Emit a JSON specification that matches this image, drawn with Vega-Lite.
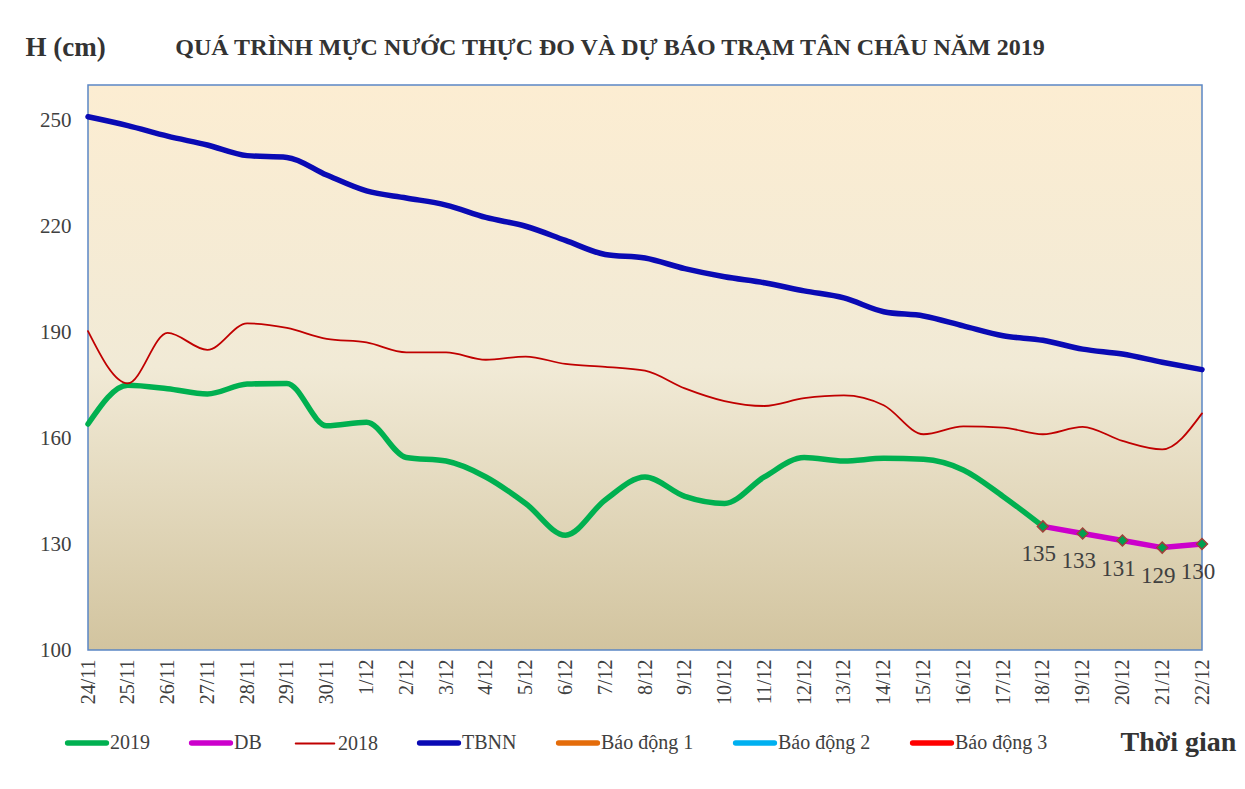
{
  "$schema": "https://vega.github.io/schema/vega-lite/v6.json",
  "width": 1114,
  "height": 565,
  "autosize": {"type": "none"},
  "padding": {"left": 88, "top": 85, "right": 43, "bottom": 139},
  "background": "white",
  "config": {
    "view": {"stroke": null},
    "font": "Liberation Serif"
  },
  "title": {
    "text": "QUÁ TRÌNH MỰC NƯỚC THỰC ĐO VÀ DỰ BÁO TRẠM  TÂN CHÂU NĂM 2019",
    "font": "Liberation Serif",
    "fontSize": 24,
    "fontWeight": "bold",
    "color": "#333333",
    "anchor": "middle",
    "frame": "group",
    "dx": -35,
    "offset": -27
  },
  "datasets": {
    "obs": [
      {"date": "24/11", "series": "2019", "value": 164},
      {"date": "25/11", "series": "2019", "value": 175},
      {"date": "26/11", "series": "2019", "value": 174},
      {"date": "27/11", "series": "2019", "value": 172.5},
      {"date": "28/11", "series": "2019", "value": 175.3},
      {"date": "29/11", "series": "2019", "value": 175.5},
      {"date": "30/11", "series": "2019", "value": 163.5},
      {"date": "1/12", "series": "2019", "value": 164.5},
      {"date": "2/12", "series": "2019", "value": 154.5},
      {"date": "3/12", "series": "2019", "value": 153.5},
      {"date": "4/12", "series": "2019", "value": 149},
      {"date": "5/12", "series": "2019", "value": 141.5},
      {"date": "6/12", "series": "2019", "value": 132.5},
      {"date": "7/12", "series": "2019", "value": 142.5},
      {"date": "8/12", "series": "2019", "value": 149},
      {"date": "9/12", "series": "2019", "value": 143.5},
      {"date": "10/12", "series": "2019", "value": 141.5},
      {"date": "11/12", "series": "2019", "value": 149},
      {"date": "12/12", "series": "2019", "value": 154.5},
      {"date": "13/12", "series": "2019", "value": 153.5},
      {"date": "14/12", "series": "2019", "value": 154.3},
      {"date": "15/12", "series": "2019", "value": 154},
      {"date": "16/12", "series": "2019", "value": 151},
      {"date": "17/12", "series": "2019", "value": 143.5},
      {"date": "18/12", "series": "2019", "value": 135},

      {"date": "24/11", "series": "2018", "value": 190.3},
      {"date": "25/11", "series": "2018", "value": 175.5},
      {"date": "26/11", "series": "2018", "value": 189.8},
      {"date": "27/11", "series": "2018", "value": 185},
      {"date": "28/11", "series": "2018", "value": 192.5},
      {"date": "29/11", "series": "2018", "value": 191.2},
      {"date": "30/11", "series": "2018", "value": 188.1},
      {"date": "1/12", "series": "2018", "value": 187.1},
      {"date": "2/12", "series": "2018", "value": 184.3},
      {"date": "3/12", "series": "2018", "value": 184.3},
      {"date": "4/12", "series": "2018", "value": 182.2},
      {"date": "5/12", "series": "2018", "value": 183.1},
      {"date": "6/12", "series": "2018", "value": 181},
      {"date": "7/12", "series": "2018", "value": 180.2},
      {"date": "8/12", "series": "2018", "value": 179.1},
      {"date": "9/12", "series": "2018", "value": 174.1},
      {"date": "10/12", "series": "2018", "value": 170.5},
      {"date": "11/12", "series": "2018", "value": 169.1},
      {"date": "12/12", "series": "2018", "value": 171.3},
      {"date": "13/12", "series": "2018", "value": 172.1},
      {"date": "14/12", "series": "2018", "value": 169.3},
      {"date": "15/12", "series": "2018", "value": 161.1},
      {"date": "16/12", "series": "2018", "value": 163.3},
      {"date": "17/12", "series": "2018", "value": 163},
      {"date": "18/12", "series": "2018", "value": 161.1},
      {"date": "19/12", "series": "2018", "value": 163.2},
      {"date": "20/12", "series": "2018", "value": 159.2},
      {"date": "21/12", "series": "2018", "value": 156.8},
      {"date": "22/12", "series": "2018", "value": 167},

      {"date": "24/11", "series": "TBNN", "value": 251},
      {"date": "25/11", "series": "TBNN", "value": 248.5},
      {"date": "26/11", "series": "TBNN", "value": 245.5},
      {"date": "27/11", "series": "TBNN", "value": 243},
      {"date": "28/11", "series": "TBNN", "value": 240},
      {"date": "29/11", "series": "TBNN", "value": 239.5},
      {"date": "30/11", "series": "TBNN", "value": 234.5},
      {"date": "1/12", "series": "TBNN", "value": 230},
      {"date": "2/12", "series": "TBNN", "value": 228},
      {"date": "3/12", "series": "TBNN", "value": 226},
      {"date": "4/12", "series": "TBNN", "value": 222.5},
      {"date": "5/12", "series": "TBNN", "value": 220},
      {"date": "6/12", "series": "TBNN", "value": 216},
      {"date": "7/12", "series": "TBNN", "value": 212},
      {"date": "8/12", "series": "TBNN", "value": 211},
      {"date": "9/12", "series": "TBNN", "value": 208},
      {"date": "10/12", "series": "TBNN", "value": 205.7},
      {"date": "11/12", "series": "TBNN", "value": 204},
      {"date": "12/12", "series": "TBNN", "value": 201.7},
      {"date": "13/12", "series": "TBNN", "value": 199.7},
      {"date": "14/12", "series": "TBNN", "value": 195.8},
      {"date": "15/12", "series": "TBNN", "value": 194.6},
      {"date": "16/12", "series": "TBNN", "value": 191.8},
      {"date": "17/12", "series": "TBNN", "value": 189},
      {"date": "18/12", "series": "TBNN", "value": 187.7},
      {"date": "19/12", "series": "TBNN", "value": 185.2},
      {"date": "20/12", "series": "TBNN", "value": 183.8},
      {"date": "21/12", "series": "TBNN", "value": 181.5},
      {"date": "22/12", "series": "TBNN", "value": 179.4}
    ],
    "db": [
      {"date": "18/12", "series": "DB", "value": 135},
      {"date": "19/12", "series": "DB", "value": 133},
      {"date": "20/12", "series": "DB", "value": 131},
      {"date": "21/12", "series": "DB", "value": 129},
      {"date": "22/12", "series": "DB", "value": 130}
    ],
    "frame": [
      {"x1": "24/11", "x2": "22/12", "y1": 100, "y2": 260}
    ]
  },
  "encoding": {
    "x": {
      "field": "date",
      "type": "ordinal",
      "scale": {
        "type": "point",
        "padding": 0,
        "domain": ["24/11","25/11","26/11","27/11","28/11","29/11","30/11","1/12","2/12","3/12","4/12","5/12","6/12","7/12","8/12","9/12","10/12","11/12","12/12","13/12","14/12","15/12","16/12","17/12","18/12","19/12","20/12","21/12","22/12"]
      },
      "axis": {
        "title": "Thời gian",
        "titleFont": "Liberation Serif",
        "titleFontSize": 28,
        "titleFontWeight": "bold",
        "titleColor": "#333333",
        "titleX": 1090,
        "titleY": 92,
        "titleAlign": "center",
        "titleBaseline": "middle",
        "labelAngle": -90,
        "labelFont": "Liberation Serif",
        "labelFontSize": 20,
        "labelColor": "#404040",
        "labelPadding": 9,
        "ticks": false,
        "domain": false,
        "grid": false
      }
    },
    "y": {
      "field": "value",
      "type": "quantitative",
      "scale": {"domain": [100, 260], "nice": false, "zero": false},
      "axis": {
        "title": "H (cm)",
        "titleFont": "Liberation Serif",
        "titleFontSize": 27,
        "titleFontWeight": "bold",
        "titleColor": "#333333",
        "titleAngle": 0,
        "titleX": -63,
        "titleY": -38,
        "titleAlign": "left",
        "titleBaseline": "middle",
        "values": [100, 130, 160, 190, 220, 250],
        "labelFont": "Liberation Serif",
        "labelFontSize": 21,
        "labelColor": "#404040",
        "labelPadding": 17,
        "ticks": false,
        "domain": false,
        "grid": false
      }
    }
  },
  "layer": [
    {
      "data": {"name": "frame"},
      "mark": {
        "type": "rect",
        "stroke": "#5B87C5",
        "strokeWidth": 1.5,
        "fill": {
          "gradient": "linear",
          "x1": 0, "y1": 0, "x2": 0, "y2": 1,
          "stops": [
            {"offset": 0, "color": "#FCEDD2"},
            {"offset": 0.5, "color": "#F1EAD6"},
            {"offset": 1, "color": "#D2C49F"}
          ]
        }
      },
      "encoding": {
        "x": {"field": "x1", "type": "ordinal"},
        "x2": {"field": "x2"},
        "y": {"field": "y1", "type": "quantitative"},
        "y2": {"field": "y2"}
      }
    },
    {
      "data": {"name": "obs"},
      "mark": {"type": "line", "interpolate": "monotone", "strokeCap": "round"},
      "encoding": {
        "color": {
          "field": "series",
          "type": "nominal",
          "scale": {
            "domain": ["2019", "DB", "2018", "TBNN", "Báo động 1", "Báo động 2", "Báo động 3"],
            "range": ["#00B050", "#CC00CC", "#C00000", "#0A0AB4", "#E46C0A", "#00B0F0", "#FF0000"]
          },
          "legend": {
            "title": null,
            "orient": "none",
            "legendX": -11,
            "legendY": 648,
            "direction": "horizontal",
            "symbolType": "stroke",
            "symbolSize": 1500,
            "symbolStrokeWidth": 5,
            "labelFont": "Liberation Serif",
            "labelFontSize": 20,
            "labelColor": "#404040",
            "labelOffset": 13,
            "columnPadding": 30,
            "labelLimit": 200,
            "symbolOpacity": 1,
            "encode": {
              "symbols": {
                "update": {
                  "strokeWidth": {"signal": "datum.value === '2018' ? 1.8 : 5.5"},
                  "strokeCap": {"value": "round"}
                }
              }
            }
          }
        },
        "strokeWidth": {
          "condition": {"test": "datum.series === '2018'", "value": 1.8},
          "value": 5.5
        }
      }
    },
    {
      "data": {"name": "db"},
      "mark": {"type": "line", "strokeCap": "round", "strokeWidth": 5.5},
      "encoding": {
        "color": {"field": "series", "type": "nominal"}
      }
    },
    {
      "data": {"name": "db"},
      "mark": {"type": "point", "shape": "diamond", "filled": true, "fill": "#00A050", "stroke": "#A0403A", "strokeWidth": 1.5, "size": 120, "opacity": 1},
      "encoding": {}
    },
    {
      "data": {"name": "db"},
      "mark": {"type": "text", "font": "Liberation Serif", "fontSize": 23, "color": "#404040", "dy": 28, "dx": -4},
      "encoding": {"text": {"field": "value", "type": "quantitative"}}
    }
  ]
}
